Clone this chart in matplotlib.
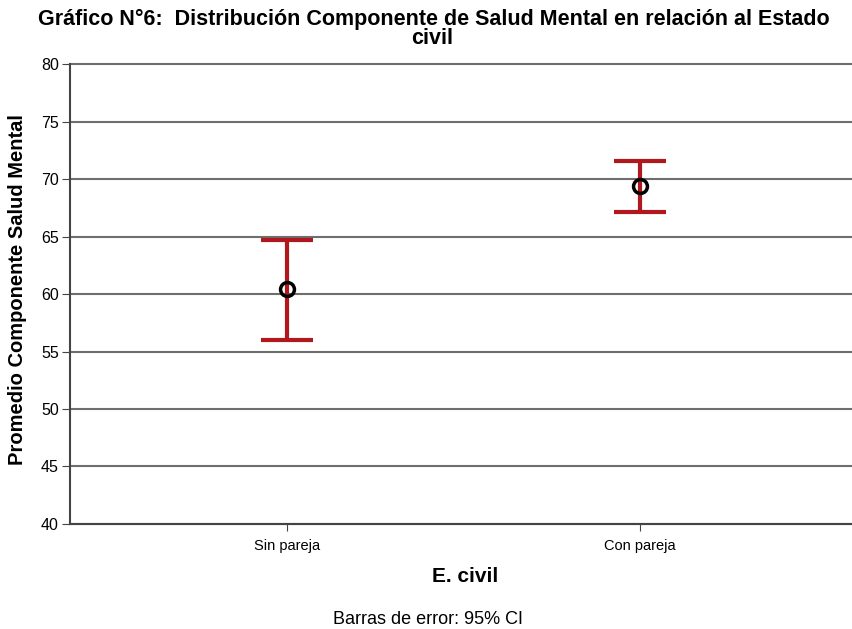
import matplotlib.pyplot as plt

plt.rcParams['font.family'] = ['Liberation Sans', 'DejaVu Sans']

categorias = ["Sin pareja", "Con pareja"]
medias = [60.4, 69.4]
ic_inferior = [56.0, 67.1]
ic_superior = [64.7, 71.6]

fig = plt.figure(figsize=(8.53, 6.29), dpi=100)
ax = fig.add_axes([0.082, 0.167, 0.918, 0.731])

posiciones = list(range(len(categorias)))
err_bajo = [m - lo for m, lo in zip(medias, ic_inferior)]
err_alto = [hi - m for m, hi in zip(medias, ic_superior)]

ax.errorbar(posiciones, medias, yerr=[err_bajo, err_alto], fmt='none',
            ecolor='#b0181e', elinewidth=3, capsize=19, capthick=3, zorder=3)
ax.plot(posiciones, medias, 'o', markersize=10, markerfacecolor='none',
        markeredgecolor='black', markeredgewidth=2.5, zorder=4)

ax.set_ylim(40, 80)
ax.set_yticks(range(40, 81, 5))
ax.set_xlim(-0.615, 1.603)
ax.set_xticks(posiciones)
ax.set_xticklabels(categorias, fontsize=10.5)
ax.tick_params(axis='y', labelsize=11.5, length=6, color='#444444', pad=2)
ax.tick_params(axis='x', length=5, color='#444444', pad=6)
ax.yaxis.grid(True, color='#6e6e6e', linewidth=1.5)
for linea in ax.get_ygridlines():
    linea.set_clip_on(False)
ax.set_axisbelow(True)
for lado in ['top', 'right']:
    ax.spines[lado].set_visible(False)
for lado in ['left', 'bottom']:
    ax.spines[lado].set_color('#444444')
    ax.spines[lado].set_linewidth(1.5)

fig.text(18 / 853, 1 - 290 / 629, "Promedio Componente Salud Mental", rotation=90,
         ha='center', va='center', fontsize=14.5, fontweight='bold')
fig.text(465 / 853, 1 - 577 / 629, "E. civil", ha='center', va='center',
         fontsize=15, fontweight='bold')

fig.text(434 / 853, 1 - 19 / 629,
         "Gráfico N°6:  Distribución Componente de Salud Mental en relación al Estado",
         ha='center', va='center', fontsize=15.5, fontweight='bold')
fig.text(432 / 853, 1 - 39 / 629, "civil", ha='center', va='center',
         fontsize=15.5, fontweight='bold')
fig.text(428 / 853, 1 - 620 / 629, "Barras de error: 95% CI", ha='center', va='center',
         fontsize=13)

fig.savefig("out.png", dpi=100)
